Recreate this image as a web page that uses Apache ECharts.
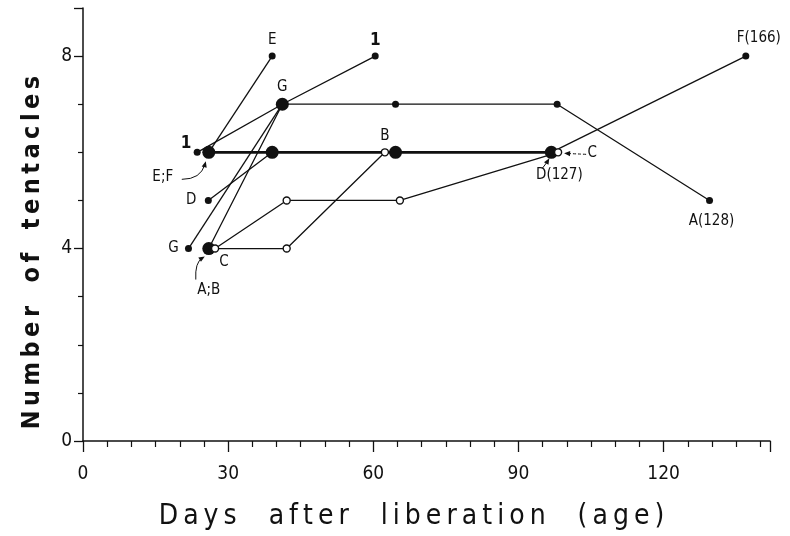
<!DOCTYPE html>
<html>
<head>
<meta charset="utf-8">
<script src="https://cdn.jsdelivr.net/npm/echarts@6/dist/echarts.min.js"></script>
<style>html,body{margin:0;padding:0;background:#fff}#chart{width:790px;height:536px}</style>
</head>
<body>
<div id="chart"></div>
<script>
// ---- data ----
const xTickLabels = [0, 30, 60, 90, 120];
const yTickLabels = [0, 4, 8];
const oneDays = [23.6, 41.2, 60.4];        const oneTent = [6, 7, 8];
const eDays   = [26.0, 39.1];              const eTent   = [6, 8];
const fDays   = [26.0, 39.1, 64.6, 96.8, 137.0]; const fTent = [6, 6, 6, 6, 8];
const dDays   = [25.9, 39.1, 64.6, 96.8];  const dTent   = [5, 6, 6, 6];
const gDays   = [21.8, 41.2];              const gTent   = [4, 7];
const aDays   = [26.0, 41.2, 64.6, 98.0, 129.5]; const aTent = [4, 7, 7, 7, 5];
const bDays   = [26.0, 42.1, 62.4];        const bTent   = [4, 4, 6];
const cDays   = [27.3, 42.1, 65.5, 98.2];  const cTent   = [4, 5, 5, 6];
// points where several individuals coincide (large dots)
const bigDays = [26.0, 39.1, 41.2, 64.6, 96.8, 26.0];
const bigTent = [6, 6, 7, 6, 6, 4];
const xTitle = 'Days after liberation (age)';
const yTitle = 'Number of tentacles';

const FONT = "'DejaVu Sans Condensed','DejaVu Sans',sans-serif";
const INK = '#111';

function spaced(str, wordGap) {
  return str.split(' ').map(w => w.split('').join('\u2009')).join(' '.repeat(wordGap));
}
function pts(xs, ys) { return xs.map((x, i) => [x, ys[i]]); }

function withLabels(data, specs, hidden) {
  return data.map((p, i) => {
    const s = specs.find(q => q[0] === i);
    const item = { value: p };
    if (hidden && hidden.includes(i)) item.symbol = 'none';
    if (s) item.label = { show: true, position: 'inside', formatter: s[1], offset: s[2],
      fontFamily: FONT, fontSize: s[3] || 15, fontWeight: s[4] || 'normal', color: INK };
    return item;
  });
}

function lineSeries(name, data, opts) {
  opts = opts || {};
  return {
    name, type: 'line', data,
    symbol: 'circle', symbolSize: 7,
    showSymbol: true,
    lineStyle: { color: INK, width: opts.width || 1.3 },
    itemStyle: opts.open ? { color: '#fff', borderColor: INK, borderWidth: 1.4 } : { color: INK, borderWidth: 0 },
    emphasis: { disabled: true }, animation: false, silent: true,
    z: opts.open ? 5 : 3
  };
}

const series = [
  lineSeries('1', withLabels(pts(oneDays, oneTent), [[0, '1', [-11, -9], 17, 'bold'], [2, '1', [0, -16], 17, 'bold']])),
  lineSeries('E', withLabels(pts(eDays, eTent), [[0, 'E;F', [-46, 25]], [1, 'E', [0, -16]]])),
  lineSeries('F', pts(fDays, fTent).slice(0, 4), { width: 2.8 }),
  lineSeries('F-tail', withLabels(pts(fDays, fTent).slice(3), [[1, 'F(166)', [13, -18]]])),
  lineSeries('D', withLabels(pts(dDays, dTent), [[0, 'D', [-17, 0]], [3, 'D(127)', [8, 23]]])),
  lineSeries('G', withLabels(pts(gDays, gTent), [[0, 'G', [-15, 0]], [1, 'G', [0, -17]]])),
  lineSeries('A', withLabels(pts(aDays, aTent), [[0, 'A;B', [0, 42]], [4, 'A(128)', [2, 21]]])),
  lineSeries('B', withLabels(pts(bDays, bTent), [[2, 'B', [0, -16]]], [0]), { open: true }),
  lineSeries('C', withLabels(pts(cDays, cTent), [[0, 'C', [9, 14]], [3, 'C', [34, 1]]]), { open: true }),
  {
    name: 'coincident', type: 'scatter', data: pts(bigDays, bigTent),
    symbol: 'circle', symbolSize: 13, itemStyle: { color: INK, opacity: 1 }, z: 4,
    silent: true, animation: false
  }
];

// arrows from labels to points (geometry in pixel offsets from the anchored point)
const arrowGeom = [
  { from: [-27, 27], cp: [-8, 27], to: [-3, 9] },     // E;F
  { from: [-13, 31], cp: [-14, 14], to: [-4, 8] },    // A;B
  { from: [-9, 16], cp: [-5, 11], to: [-2, 6] },      // D(127)
  { from: [28, 2], cp: [17, 1.5], to: [6, 1], dash: true } // C
];
const arrowData = [
  [eDays[0], eTent[0], 0],
  [aDays[0], aTent[0], 1],
  [dDays[3], dTent[3], 2],
  [cDays[3], cTent[3], 3]
];
series.push({
  type: 'custom', coordinateSystem: 'cartesian2d', data: arrowData, z: 6, silent: true, animation: false,
  renderItem: function (params, api) {
    const p = api.coord([api.value(0), api.value(1)]);
    const g = arrowGeom[api.value(2)];
    const s = [p[0] + g.from[0], p[1] + g.from[1]];
    const c = [p[0] + g.cp[0], p[1] + g.cp[1]];
    const e = [p[0] + g.to[0], p[1] + g.to[1]];
    let ux = e[0] - c[0], uy = e[1] - c[1];
    const L = Math.hypot(ux, uy) || 1; ux /= L; uy /= L;
    const nx = -uy, ny = ux, h = 6, w = 2.6;
    return {
      type: 'group',
      children: [
        { type: 'bezierCurve', shape: { x1: s[0], y1: s[1], x2: e[0] - ux * 3, y2: e[1] - uy * 3, cpx1: c[0], cpy1: c[1] },
          style: { stroke: INK, lineWidth: 1, fill: null, lineDash: g.dash ? [3, 2] : null } },
        { type: 'polygon', shape: { points: [e, [e[0] - ux * h + nx * w, e[1] - uy * h + ny * w], [e[0] - ux * h - nx * w, e[1] - uy * h - ny * w]] },
          style: { fill: INK } }
      ]
    };
  }
});

const chart = echarts.init(document.getElementById('chart'), null, { renderer: 'canvas' });
chart.setOption({
  backgroundColor: '#fff',
  animation: false,
  grid: { left: 83, right: 20, top: 8, bottom: 87, containLabel: false },
  xAxis: {
    type: 'value', min: 0, max: 142, interval: xTickLabels[1] - xTickLabels[0],
    name: spaced(xTitle, 4),
    nameLocation: 'middle', nameGap: 62,
    nameTextStyle: { fontFamily: FONT, fontSize: 28, color: INK, padding: [0, 30, 0, 0] },
    axisLine: { lineStyle: { color: INK, width: 1.5 } },
    axisTick: { length: 11, lineStyle: { color: INK, width: 1.3 } },
    minorTick: { show: true, splitNumber: 6, length: 6, lineStyle: { color: INK, width: 1.2 } },
    axisLabel: { margin: 24, fontFamily: FONT, fontSize: 19, color: INK,
      formatter: v => xTickLabels.includes(v) ? String(v) : '' },
    splitLine: { show: false }
  },
  yAxis: {
    type: 'value', min: 0, max: 9, interval: yTickLabels[1] - yTickLabels[0],
    name: spaced(yTitle, 3),
    nameLocation: 'middle', nameGap: 38, nameRotate: 90,
    nameTextStyle: { fontFamily: FONT, fontSize: 25, fontWeight: 'bold', color: INK, padding: [0, 56, 0, 0] },
    axisLine: { lineStyle: { color: INK, width: 1.5 } },
    axisTick: { length: 9, lineStyle: { color: INK, width: 1.3 } },
    minorTick: { show: true, splitNumber: 4, length: 5, lineStyle: { color: INK, width: 1.2 } },
    axisLabel: { margin: 11, fontFamily: FONT, fontSize: 19, color: INK,
      formatter: v => yTickLabels.includes(v) ? String(v) : '' },
    splitLine: { show: false }
  },
  series
});
</script>
</body>
</html>
